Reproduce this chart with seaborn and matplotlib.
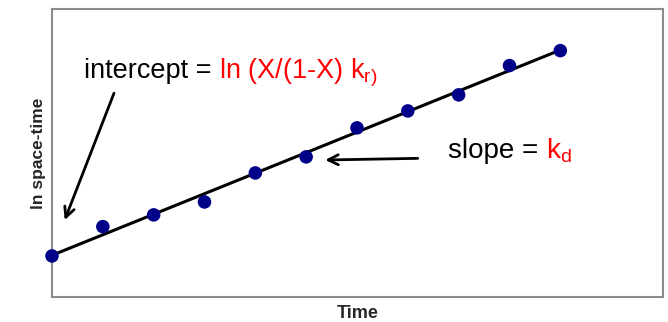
import numpy as np
import pandas as pd
import matplotlib
matplotlib.use("Agg")
import matplotlib.pyplot as plt
import seaborn as sns

# data (arbitrary units)
time = [0, 1, 2, 3, 4, 5, 6, 7, 8, 9, 10]
ln_space_time = [1.43, 2.45, 2.86, 3.31, 4.32, 4.88, 5.89, 6.48, 7.04, 8.06, 8.58]

df = pd.DataFrame({"time": time, "ln_tau": ln_space_time})

sns.set_style("white")
plt.rcParams['font.family'] = ['Liberation Sans', 'DejaVu Sans']
plt.rcParams['mathtext.fontset'] = 'custom'
plt.rcParams['mathtext.rm'] = 'Liberation Sans'

fig = plt.figure(figsize=(6.68, 3.22), dpi=100)
ax = fig.add_axes([52 / 668, 25 / 322, 611 / 668, 288 / 322])

# fitted straight line + data points
sns.regplot(data=df, x="time", y="ln_tau", ci=None, truncate=True, ax=ax,
            scatter=False, line_kws={"color": "black", "lw": 2.2, "zorder": 2})
sns.scatterplot(data=df, x="time", y="ln_tau", ax=ax, color="#000088",
                s=95, edgecolor="none", zorder=3, clip_on=False)

ax.set_xlim(0, 12.02)
ax.set_ylim(0, 10.03)
ax.set_xticks([])
ax.set_yticks([])
ax.set_xlabel("Time", fontsize=13, fontweight="bold", labelpad=6)
ax.set_ylabel("ln space-time", fontsize=12.5, fontweight="bold", labelpad=4)
for sp in ax.spines.values():
    sp.set_color("#8c8c8c")
    sp.set_linewidth(1.5)


def two_colour(x, y, black, red, size):
    # black part, then red part on the same baseline
    t = ax.text(x, y, black, fontsize=size, color="black",
                va="baseline", ha="left")
    fig.canvas.draw()
    bb = t.get_window_extent()
    x_end = ax.transData.inverted().transform((bb.x1, 0))[0]
    ax.text(x_end, y, red, fontsize=size, color="red",
            va="baseline", ha="left")


two_colour(0.62, 7.62, "intercept = ", r"ln (X/(1-X) k$_{\mathregular{r)}}$", 19.5)
two_colour(7.80, 4.85, "slope = ", r"k$_{\mathregular{d}}$", 20)

# arrows
ax.annotate("", xy=(0.23, 2.59), xytext=(1.24, 7.19),
            arrowprops=dict(arrowstyle="->", color="black", lw=2,
                            mutation_scale=18))
ax.annotate("", xy=(5.32, 4.77), xytext=(7.25, 4.83),
            arrowprops=dict(arrowstyle="->", color="black", lw=2,
                            mutation_scale=18))

plt.savefig("out.png", dpi=100)
